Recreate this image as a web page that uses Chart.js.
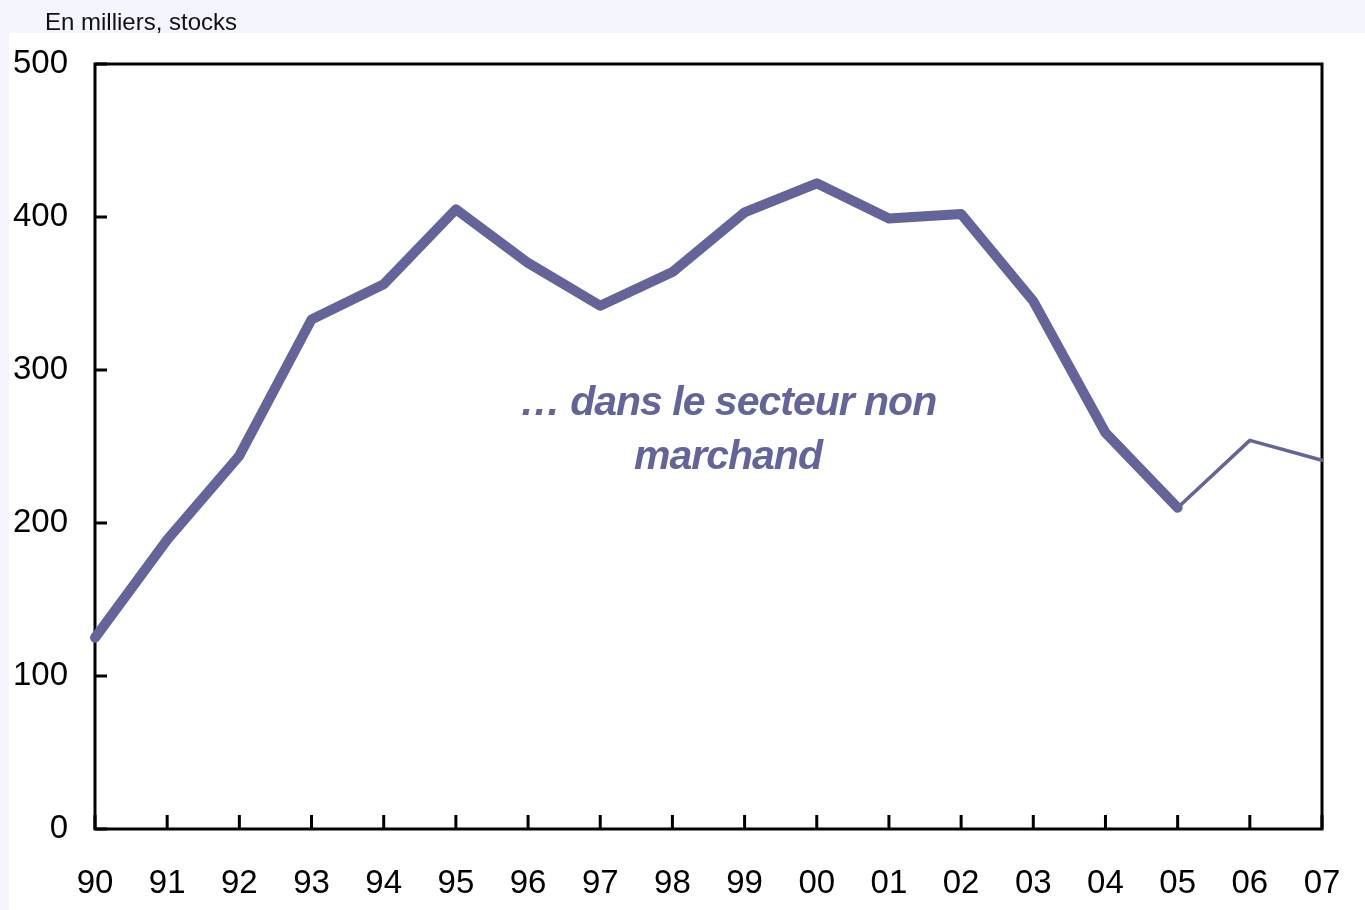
<!DOCTYPE html>
<html>
<head>
<meta charset="utf-8">
<script src="https://cdn.jsdelivr.net/npm/chart.js@4"></script>
<style>
  html, body { margin: 0; padding: 0; background: #f4f4fc; }
  #wrap { width: 1365px; height: 910px; position: relative; }
</style>
</head>
<body>
<div id="wrap"><canvas id="emploisChart" width="1365" height="910"></canvas></div>
<script>
// years shown on the x axis
const years = ['90','91','92','93','94','95','96','97','98','99','00','01','02','03','04','05','06','07'];
// stock, thousands (solid thick part up to 05)
const observed = [125, 189, 244, 333, 356, 405, 370, 342, 364, 403, 422, 399, 402, 345, 259, 210, null, null];
// thin part, 05 to 07
const projected = [null, null, null, null, null, null, null, null, null, null, null, null, null, null, null, 210, 254, 241];
const yTicks = [0, 100, 200, 300, 400, 500];
const unitLabel = 'En milliers, stocks';
const noteLines = ['\u2026 dans le secteur non', 'marchand'];

const lineColor = '#64649a';
const fontFamily = '"Liberation Sans", Arial, sans-serif';

const framePlugin = {
	id: 'frame',
	beforeDraw(chart) {
		const ctx = chart.ctx;
		ctx.save();
		ctx.fillStyle = '#f4f4fc';
		ctx.fillRect(0, 0, chart.width, chart.height);
		ctx.fillStyle = '#ffffff';
		ctx.fillRect(9, 33, chart.width - 9, chart.height - 33);
		ctx.fillStyle = '#111111';
		ctx.font = '24px ' + fontFamily;
		ctx.textBaseline = 'middle';
		ctx.fillText(unitLabel, 45, 23);
		ctx.restore();
	},
	beforeDatasetsDraw(chart) {
		const ctx = chart.ctx, a = chart.chartArea;
		const x = chart.scales.x, y = chart.scales.y;
		ctx.save();
		ctx.strokeStyle = '#000000';
		ctx.lineWidth = 3;
		ctx.strokeRect(a.left, a.top, a.right - a.left, a.bottom - a.top);
		ctx.beginPath();
		// x ticks point up into the plot
		years.forEach((_, i) => {
			const px = x.getPixelForValue(i);
			ctx.moveTo(px, a.bottom);
			ctx.lineTo(px, a.bottom - 14);
		});
		// y ticks point right into the plot
		yTicks.forEach(v => {
			const py = y.getPixelForValue(v);
			ctx.moveTo(a.left, py);
			ctx.lineTo(a.left + 12, py);
		});
		ctx.stroke();
		ctx.restore();
	},
	afterDatasetsDraw(chart) {
		const ctx = chart.ctx;
		const x = chart.scales.x, y = chart.scales.y;
		ctx.save();
		ctx.fillStyle = lineColor;
		ctx.font = 'italic bold 41px ' + fontFamily;
		ctx.letterSpacing = '-1px';
		ctx.textAlign = 'center';
		ctx.textBaseline = 'middle';
		const cx = x.getPixelForValue(8.77);
		ctx.fillText(noteLines[0], cx, y.getPixelForValue(278));
		ctx.fillText(noteLines[1], cx, y.getPixelForValue(243));
		ctx.restore();
	}
};

new Chart('emploisChart', {
	type: 'line',
	data: {
		labels: years,
		datasets: [
			{
				data: observed,
				borderColor: lineColor,
				borderWidth: 10,
				borderCapStyle: 'round',
				borderJoinStyle: 'round',
				pointRadius: 0,
				tension: 0,
				clip: false,
			},
			{
				data: projected,
				borderColor: lineColor,
				borderWidth: 3.5,
				borderCapStyle: 'round',
				borderJoinStyle: 'round',
				pointRadius: 0,
				tension: 0,
				clip: false,
			},
		],
	},
	options: {
		responsive: false,
		animation: false,
		layout: { padding: { top: 64, right: 43, left: 0, bottom: 0 } },
		plugins: { legend: { display: false }, tooltip: { enabled: false } },
		scales: {
			x: {
				offset: false,
				grid: { display: false, drawTicks: false },
				border: { display: false },
				ticks: {
					color: '#000000',
					font: { family: fontFamily, size: 33 },
					padding: 35,
					maxRotation: 0,
					autoSkip: false,
				},
				afterFit(scale) {
					scale.height = 81;
					scale.paddingLeft = 0;
					scale.paddingRight = 0;
				},
			},
			y: {
				min: 0,
				max: 500,
				grid: { display: false, drawTicks: false },
				border: { display: false },
				ticks: {
					stepSize: 100,
					color: '#000000',
					font: { family: fontFamily, size: 33 },
					padding: 27,
				},
				afterFit(scale) {
					scale.width = 95;
					scale.paddingTop = 0;
					scale.paddingBottom = 0;
				},
			},
		},
	},
	plugins: [framePlugin],
});
</script>
</body>
</html>
